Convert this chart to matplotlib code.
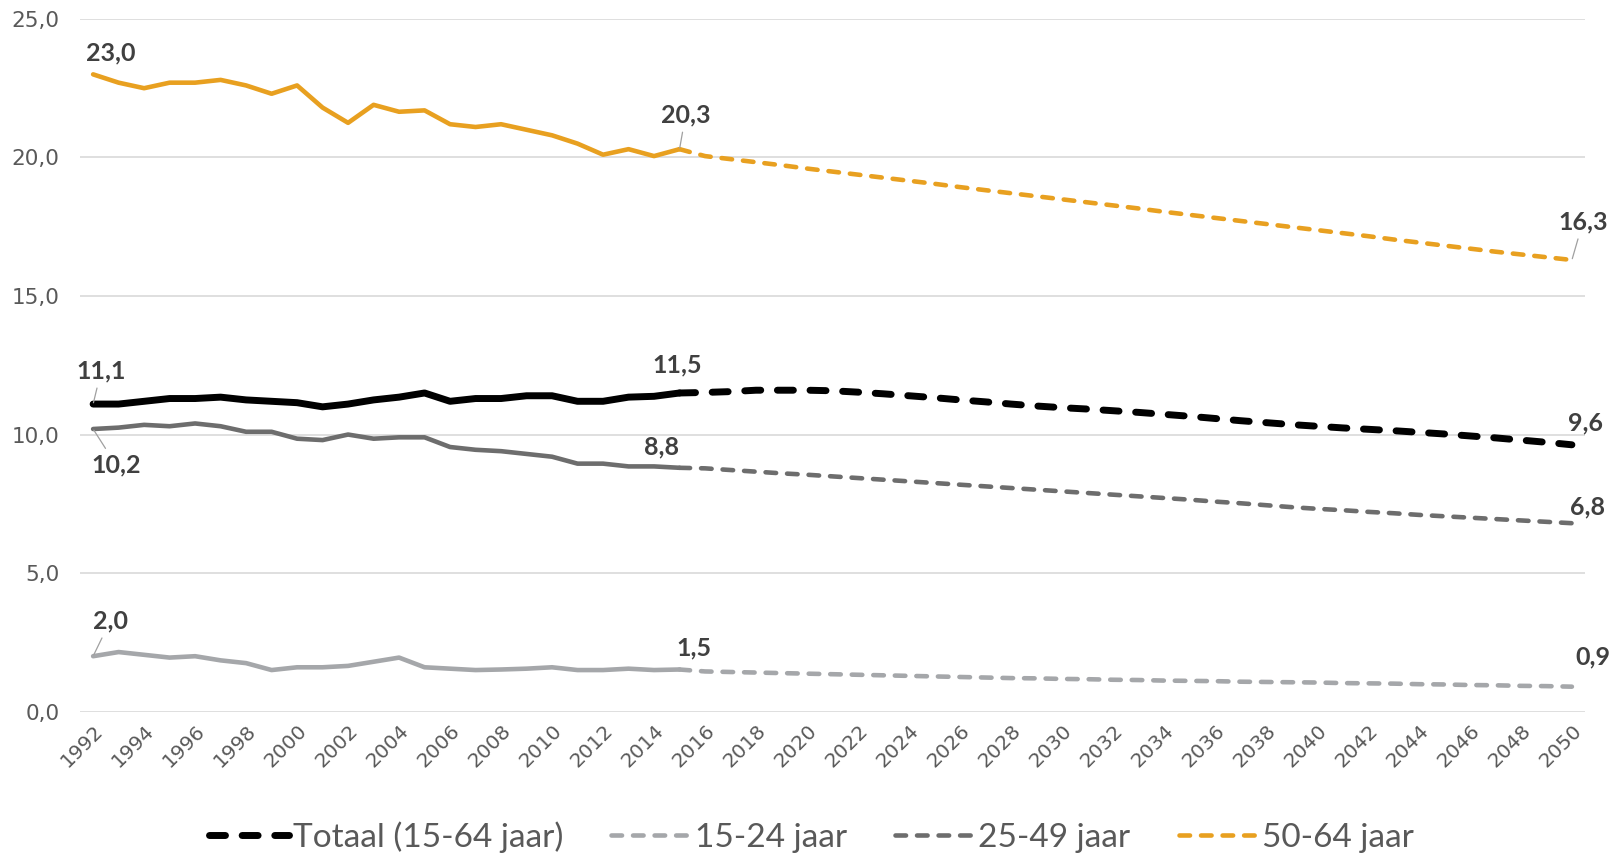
import matplotlib
matplotlib.use("Agg")
import matplotlib.pyplot as plt
import numpy as np

years_hist = list(range(1992, 2016))
years_proj = list(range(2015, 2051))

totaal_hist = [11.1, 11.1, 11.2, 11.3, 11.3, 11.35, 11.25, 11.2, 11.15, 11.0, 11.1, 11.25,
               11.35, 11.5, 11.2, 11.3, 11.3, 11.4, 11.4, 11.2, 11.2, 11.35, 11.38, 11.5]
totaal_proj = [11.5, 11.52, 11.55, 11.6, 11.6, 11.6, 11.58, 11.53, 11.47, 11.4, 11.33, 11.25,
               11.18, 11.1, 11.03, 10.97, 10.92, 10.86, 10.8, 10.73, 10.66, 10.58, 10.5, 10.43,
               10.36, 10.3, 10.24, 10.19, 10.14, 10.08, 10.02, 9.95, 9.88, 9.8, 9.72, 9.63]

j1524_hist = [2.0, 2.15, 2.05, 1.95, 2.0, 1.85, 1.75, 1.5, 1.6, 1.6, 1.65, 1.8,
              1.95, 1.6, 1.55, 1.5, 1.52, 1.55, 1.6, 1.5, 1.5, 1.55, 1.5, 1.52]
j1524_proj = [1.52, 1.45, 1.43, 1.41, 1.39, 1.37, 1.35, 1.33, 1.31, 1.29, 1.27, 1.25,
              1.23, 1.21, 1.2, 1.18, 1.17, 1.15, 1.14, 1.12, 1.11, 1.1, 1.08, 1.07,
              1.06, 1.05, 1.03, 1.02, 1.01, 0.99, 0.98, 0.96, 0.95, 0.93, 0.92, 0.9]

j2549_hist = [10.2, 10.25, 10.35, 10.3, 10.4, 10.3, 10.1, 10.1, 9.85, 9.8, 10.0, 9.85,
              9.9, 9.9, 9.55, 9.45, 9.4, 9.3, 9.2, 8.95, 8.95, 8.85, 8.85, 8.8]
j2549_proj = [8.8, 8.78, 8.72, 8.66, 8.6, 8.55, 8.49, 8.43, 8.37, 8.31, 8.25, 8.19,
              8.13, 8.07, 8.01, 7.95, 7.89, 7.83, 7.77, 7.71, 7.65, 7.58, 7.52, 7.45,
              7.38, 7.32, 7.27, 7.21, 7.16, 7.1, 7.05, 7.0, 6.95, 6.9, 6.85, 6.8]

j5064_hist = [23.0, 22.7, 22.5, 22.7, 22.7, 22.8, 22.6, 22.3, 22.6, 21.8, 21.25, 21.9,
              21.65, 21.7, 21.2, 21.1, 21.2, 21.0, 20.8, 20.5, 20.1, 20.3, 20.05, 20.3]
j5064_proj = [20.3, 20.05, 19.94, 19.83, 19.72, 19.6, 19.49, 19.38, 19.27, 19.16, 19.05, 18.93,
              18.82, 18.71, 18.6, 18.49, 18.38, 18.27, 18.16, 18.04, 17.93, 17.82, 17.71, 17.6,
              17.49, 17.38, 17.27, 17.16, 17.04, 16.93, 16.82, 16.71, 16.6, 16.5, 16.4, 16.3]

series_names = ["Totaal (15-64 jaar)", "15-24 jaar", "25-49 jaar", "50-64 jaar"]
series_colors = ["#000000", "#a5a7aa", "#6d6d6d", "#e8a020"]

fig = plt.figure(figsize=(16.17, 8.61), dpi=100)
ax = fig.add_axes([0.0497, 0.1735, 0.9303, 0.8045])

hist = [totaal_hist, j1524_hist, j2549_hist, j5064_hist]
proj = [totaal_proj, j1524_proj, j2549_proj, j5064_proj]
widths = [5.0, 3.3, 3.3, 3.3]
dashes = [(2.3, 2.4), (2.3, 2.4), (2.3, 2.4), (2.3, 2.4)]

handles = []
for name, col, h, p, lw, d in zip(series_names, series_colors, hist, proj, widths, dashes):
    ax.plot(years_hist, h, color=col, lw=lw, solid_capstyle="round", solid_joinstyle="round", zorder=3)
    ln, = ax.plot(years_proj, p, color=col, lw=lw, dashes=d, dash_capstyle="round", zorder=3, label=name)
    handles.append(ln)

ax.set_xlim(1991.5, 2050.5)
ax.set_ylim(0, 25)
ax.set_yticks(np.arange(0, 25.1, 5))
ax.set_yticklabels([f"{v:.1f}".replace(".", ",") for v in np.arange(0, 25.1, 5)])
xt = list(range(1992, 2051, 2))
ax.set_xticks(xt)
ax.set_xticklabels([str(x) for x in xt], rotation=45, ha="right", rotation_mode="anchor")
ax.tick_params(axis="both", length=0, labelsize=14.5, colors="#595959")
ax.tick_params(axis="y", labelsize=15.5, pad=15)
ax.tick_params(axis="x", pad=7)
ax.grid(axis="y", color="#d9d9d9", lw=1.2, zorder=0)
for s in ax.spines.values():
    s.set_visible(False)

lab_kw = dict(textcoords="offset pixels", fontsize=18, fontweight="bold", color="#404040",
              family="Lato", ha="center", va="center", zorder=5)
leader = dict(arrowstyle="-", color="#a0a0a0", lw=0.9, shrinkA=2, shrinkB=1)

def lab(x, y, dx, dy, lead=False):
    txt = f"{y:.1f}".replace(".", ",")
    ax.annotate(txt, xy=(x, y), xytext=(dx, dy),
                arrowprops=leader if lead else None, annotation_clip=False, **lab_kw)

lab(1992, j5064_hist[0], 18, 21)
lab(2015, j5064_hist[-1], 6, 34, True)
lab(2050, j5064_proj[-1], 11, 38, True)
lab(1992, totaal_hist[0], 8, 33, True)
lab(2015, totaal_hist[-1], -2, 28)
lab(2050, totaal_proj[-1], 14, 22)
lab(1992, j2549_hist[0], 23, -36, True)
lab(2015, j2549_hist[-1], -18, 21)
lab(2050, j2549_proj[-1], 16, 16)
lab(1992, j1524_hist[0], 17, 35, True)
lab(2015, j1524_hist[-1], 14, 22)
lab(2050, j1524_proj[-1], 21, 30)

leg = fig.legend(handles=handles, labels=series_names, loc="center", bbox_to_anchor=(0.502, 0.028),
                 ncol=4, frameon=False, handlelength=2.4, handletextpad=0.1, columnspacing=1.45,
                 prop={"family": "Lato", "size": 24})
for t in leg.get_texts():
    t.set_color("#595959")

fig.savefig("out.png", dpi=100)
